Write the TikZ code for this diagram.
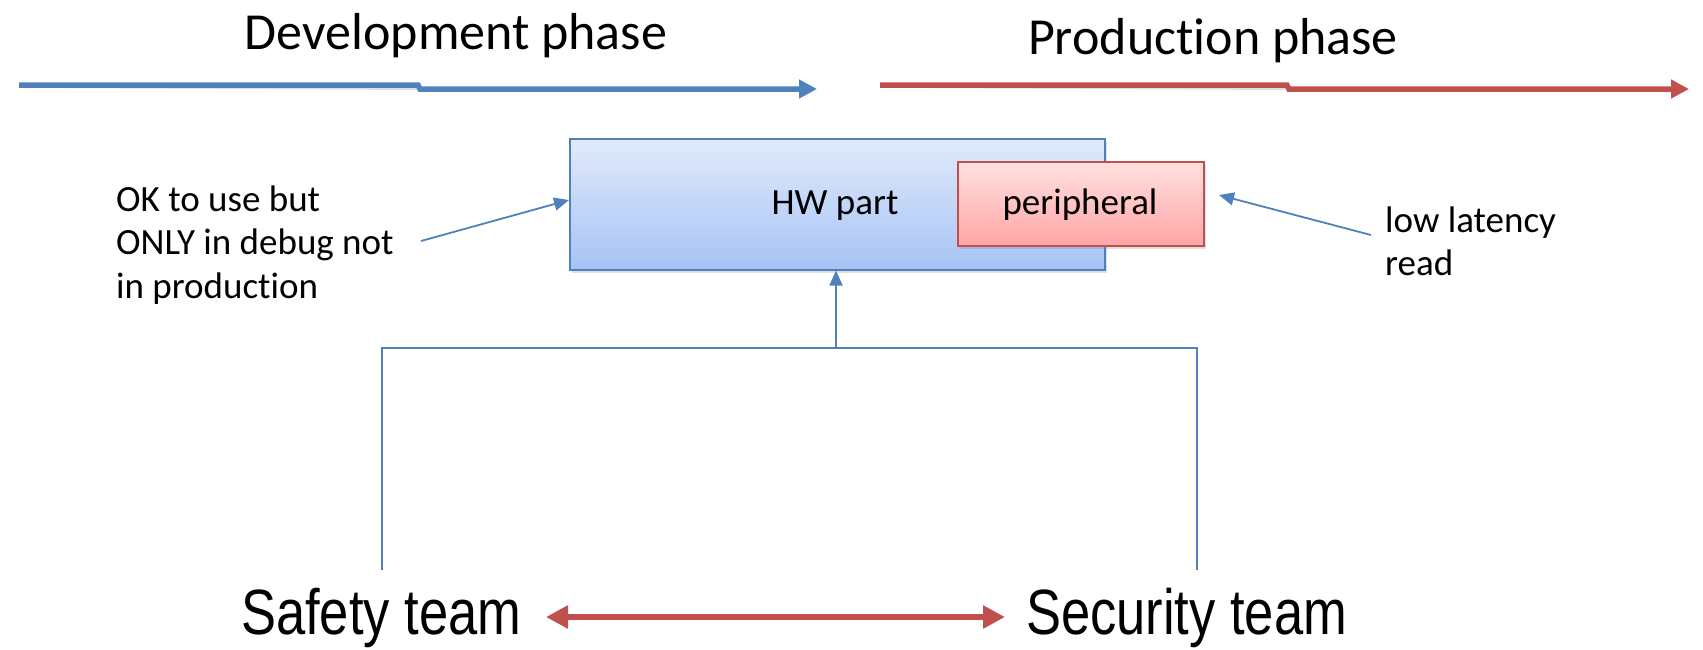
\documentclass[tikz,border=0pt]{standalone}
\usepackage{fontspec}
\setmainfont[Ligatures=CommonOff]{Carlito}
\newfontfamily\narrowfont[FakeStretch=0.82]{Liberation Sans}
\usetikzlibrary{arrows.meta,shadows}
\definecolor{oblue}{HTML}{4F81BD}
\definecolor{ored}{HTML}{C0504D}
\definecolor{boxtop}{HTML}{E1EAFB}
\definecolor{boxbot}{HTML}{A6C3F5}
\definecolor{pertop}{HTML}{FFE0E0}
\definecolor{perbot}{HTML}{FFA6A6}
\tikzset{
  phasearrow/.style={line width=5.5pt, -{Triangle[length=18pt,width=18pt]}},
  thinarrow/.style={oblue, line width=1.8pt, -{Triangle[length=15pt,width=13pt]}},
  thinline/.style={oblue, line width=1.4pt},
  title/.style={font=\fontsize{52}{62}\selectfont, inner sep=0pt, anchor=base},
  note/.style={font=\fontsize{37}{44}\selectfont, inner sep=0pt, anchor=base west},
  team/.style={font=\narrowfont\fontsize{64}{76}\selectfont, inner sep=0pt, anchor=base west},
  shade/.style={drop shadow={opacity=0.25, shadow xshift=2pt, shadow yshift=-3pt}},
}
\begin{document}
\begin{tikzpicture}[x=1pt,y=-1pt]
\useasboundingbox (0,0) rectangle (1703,649);

% titles
\node[title] (dev) at (456,49) {Development phase};
\node[title] (prod) at (1213,54) {Production phase};

% phase arrows
\coordinate (d0) at (19,85);
\coordinate (d1) at (418,85);
\coordinate (d2) at (420,89);
\coordinate (d3) at (817,89);
\draw[phasearrow, oblue, shade] (d0) -- (d1) -- (d2) -- (d3);
\coordinate (p0) at (880,85);
\coordinate (p1) at (1287,85);
\coordinate (p2) at (1289,89);
\coordinate (p3) at (1689,89);
\draw[phasearrow, ored, shade] (p0) -- (p1) -- (p2) -- (p3);

% boxes
\node[draw=oblue, line width=1.5pt, top color=boxtop, bottom color=boxbot,
      minimum width=535pt, minimum height=131pt, anchor=north west, shade] (hw) at (569,138) {};
\node[font=\fontsize{37}{44}\selectfont, inner sep=0pt, anchor=base] (hwtext) at (835,214) {HW part};
\node[draw=ored, line width=1.5pt, top color=pertop, bottom color=perbot,
      minimum width=246pt, minimum height=84pt, anchor=north west, shade] (per) at (957,161) {};
\node[font=\fontsize{37}{44}\selectfont, inner sep=0pt, anchor=base] (pertext) at (1080,214) {peripheral};

% left note
\node[note] (n1) at (116,211) {OK to use but};
\node[note] (n2) at (116,254) {ONLY in debug not};
\node[note] (n3) at (116,298) {in production};
\coordinate (lstart) at (421,241);
\draw[thinarrow] (lstart) -- (hw.west |- 0,200);

% right note
\node[note] (r1) at (1385,232) {low latency};
\node[note] (r2) at (1385,275) {read};
\coordinate (rstart) at (1371,235);
\coordinate (rend) at (1219,195);
\draw[thinarrow] (rstart) -- (rend);

% teams
\node[team] (safety) at (241,634) {Safety team};
\node[team] (security) at (1026,634) {Security team};

% tree connector
\coordinate (sa) at (382,570);
\coordinate (se) at (1197,570);
\coordinate (junc) at (836,348);
\draw[thinline] (sa) |- (junc) -| (se);
\draw[thinarrow] (junc) -- (hw.south -| junc);

% red double arrow
\coordinate (ra) at (546,617);
\coordinate (rb) at (1005,617);
\draw[ored, line width=5.5pt, {Triangle[length=22pt,width=22pt]}-{Triangle[length=22pt,width=22pt]}, shade] (ra) -- (rb);
\end{tikzpicture}
\end{document}
